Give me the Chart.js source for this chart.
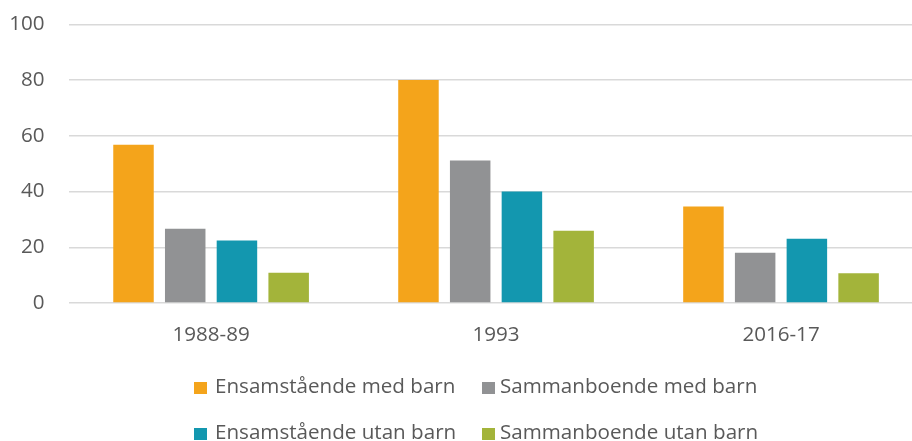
<!DOCTYPE html>
<html>
<head>
<meta charset="utf-8">
<script src="https://cdn.jsdelivr.net/npm/chart.js@4"></script>
<style>
  html, body { margin: 0; padding: 0; background: #fff; overflow: hidden; width: 912px; height: 441px; }
  /* canvas is a bit larger than the window: the reference plot is cut off on the right */
  #wrap { position: absolute; left: 0; top: -12.4px; width: 940px; height: 454px; }
  #legend { position: absolute; left: 0; top: 0; width: 912px; height: 441px; pointer-events: none;
    font-family: 'Open Sans', sans-serif; font-size: 20.6px; line-height: 20px; color: #595959; }
  .item { position: absolute; white-space: nowrap; }
  .item .sw { position: absolute; top: 7px; width: 13px; height: 12px; }
</style>
</head>
<body>
<div id="wrap"><canvas id="chart" width="940" height="454"></canvas></div>
<div id="legend"></div>
<script>
// categories / series
const categories = ['1988-89', '1993', '2016-17'];
const seriesNames = [
  'Ensamstående med barn',
  'Sammanboende med barn',
  'Ensamstående utan barn',
  'Sammanboende utan barn',
];
const ensamMedBarn = [56.8, 80.0, 34.7];
const sammanMedBarn = [26.7, 51.2, 18.1];
const ensamUtanBarn = [22.5, 40.0, 23.1];
const sammanUtanBarn = [10.9, 26.0, 10.7];
const yTicks = [0, 20, 40, 60, 80, 100];

const COLORS = ['#F4A41B', '#919294', '#1397AF', '#A3B43A'];
const TEXT = '#595959';
const GRID = '#d9d9d9';

const values = [ensamMedBarn, sammanMedBarn, ensamUtanBarn, sammanUtanBarn];

new Chart(document.getElementById('chart'), {
  type: 'bar',
  data: {
    labels: categories,
    datasets: values.map((data, i) => ({
      label: seriesNames[i],
      data,
      backgroundColor: COLORS[i],
      borderWidth: 0,
      categoryPercentage: 0.726,
      barPercentage: 0.783,
    })),
  },
  options: {
    responsive: false,
    animation: false,
    layout: { padding: { top: 0, right: 16.5, left: 0, bottom: 0 } },
    plugins: { legend: { display: false }, tooltip: { enabled: false } },
    scales: {
      x: {
        grid: { display: false },
        border: { display: false },
        ticks: { color: TEXT, padding: 12, font: { family: "'Open Sans', sans-serif", size: 20.6 } },
        afterFit: (s) => { s.height = 454 - 315.1; },
      },
      y: {
        min: 0,
        max: 100,
        afterBuildTicks: (s) => { s.ticks = yTicks.map(v => ({ value: v })); },
        grid: { color: GRID, lineWidth: 1.5, drawTicks: false },
        border: { display: false },
        ticks: { color: TEXT, padding: 24, font: { family: "'Open Sans', sans-serif", size: 20.6 } },
        afterFit: (s) => { s.width = 68.6; },
      },
    },
  },
});

// legend, two rows of two, as in the reference
const legendPos = [
  { x: 194, y: 375, tx: 215 },
  { x: 482, y: 375, tx: 500 },
  { x: 194, y: 421, tx: 215 },
  { x: 482, y: 421, tx: 500 },
];
const legend = document.getElementById('legend');
seriesNames.forEach((name, i) => {
  const p = legendPos[i];
  const el = document.createElement('div');
  el.className = 'item';
  el.style.left = p.x + 'px';
  el.style.top = p.y + 'px';
  el.innerHTML = '<span class="sw" style="left:0;background:' + COLORS[i] + '"></span>' +
    '<span style="position:absolute;left:' + (p.tx - p.x) + 'px">' + name + '</span>';
  legend.appendChild(el);
});
</script>
</body>
</html>
